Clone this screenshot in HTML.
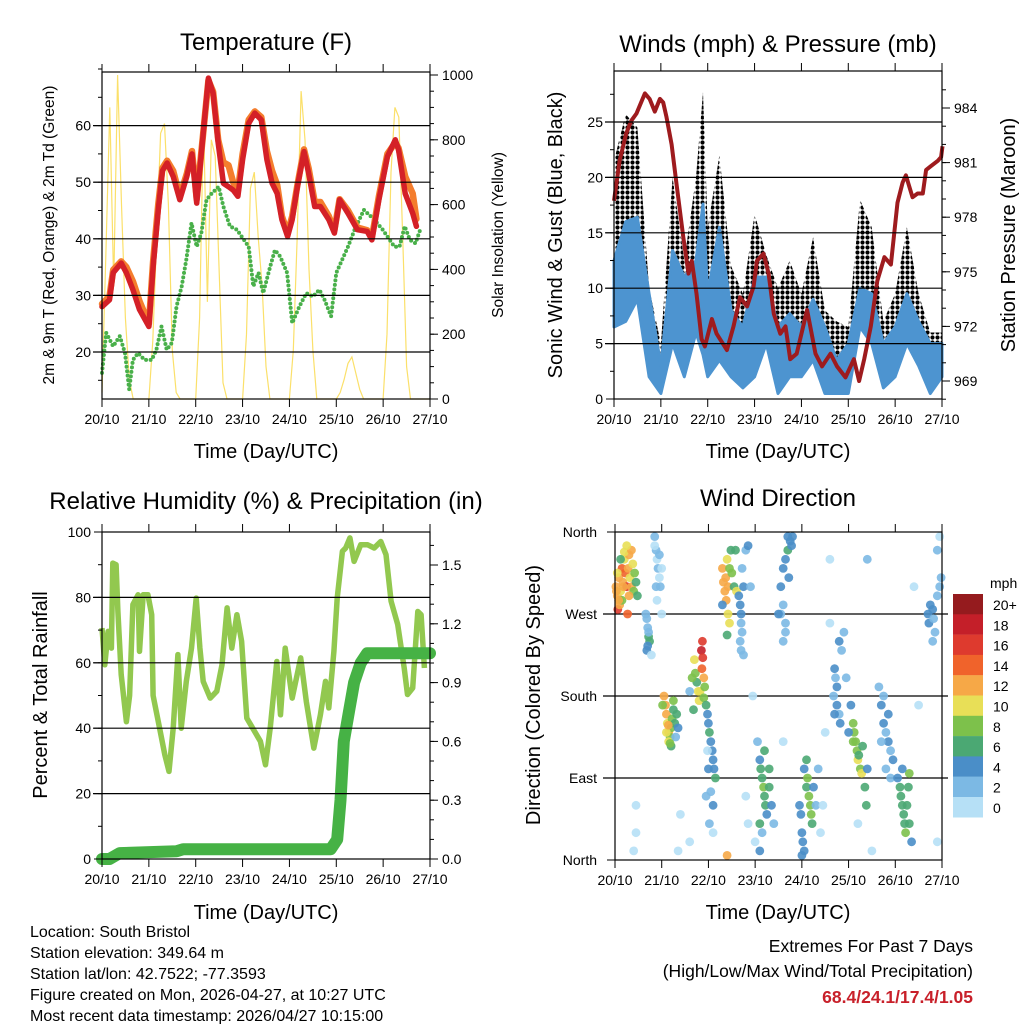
<!DOCTYPE html>
<html><head><meta charset="utf-8"><title>Station meteogram</title>
<style>
html,body{margin:0;padding:0;background:#fff;}
svg{display:block;font-family:"Liberation Sans",Arial,sans-serif;}
</style></head>
<body>
<svg id="chart" width="1024" height="1024" viewBox="0 0 1024 1024" xmlns="http://www.w3.org/2000/svg">
<defs>
<pattern id="gustdots" x="0" y="0" width="5" height="5" patternUnits="userSpaceOnUse">
<circle cx="2.5" cy="2.5" r="2.1" fill="#000"/>
</pattern>
</defs>
<rect x="0" y="0" width="1024" height="1024" fill="#fff"/>
<text x="266" y="50" font-size="24" text-anchor="middle">Temperature (F)</text>
<text x="778" y="52" font-size="24" text-anchor="middle">Winds (mph) &amp; Pressure (mb)</text>
<text x="266" y="509" font-size="24" text-anchor="middle">Relative Humidity (%) &amp; Precipitation (in)</text>
<text x="778" y="506" font-size="24" text-anchor="middle">Wind Direction</text>
<text x="266" y="458" font-size="20" text-anchor="middle">Time (Day/UTC)</text>
<text x="778" y="458" font-size="20" text-anchor="middle">Time (Day/UTC)</text>
<text x="266" y="919" font-size="20" text-anchor="middle">Time (Day/UTC)</text>
<text x="778" y="919" font-size="20" text-anchor="middle">Time (Day/UTC)</text>
<text transform="translate(54,235) rotate(-90)" font-size="15.5" text-anchor="middle">2m &amp; 9m T (Red, Orange) &amp; 2m Td (Green)</text>
<text transform="translate(503,235) rotate(-90)" font-size="15.5" text-anchor="middle">Solar Insolation (Yellow)</text>
<text transform="translate(562,235) rotate(-90)" font-size="20" text-anchor="middle">Sonic Wind &amp; Gust (Blue, Black)</text>
<text transform="translate(1015,235) rotate(-90)" font-size="20" text-anchor="middle">Station Pressure (Maroon)</text>
<text transform="translate(47,695) rotate(-90)" font-size="20" text-anchor="middle">Percent &amp; Total Rainfall</text>
<text transform="translate(540,695) rotate(-90)" font-size="20" text-anchor="middle">Direction (Colored By Speed)</text>
<g font-size="16">
<text x="30" y="937">Location: South Bristol</text>
<text x="30" y="958">Station elevation: 349.64 m</text>
<text x="30" y="979">Station lat/lon: 42.7522; -77.3593</text>
<text x="30" y="1000">Figure created on Mon, 2026-04-27, at 10:27 UTC</text>
<text x="30" y="1021">Most recent data timestamp: 2026/04/27 10:15:00</text>
</g>
<g font-size="17.5" text-anchor="end">
<text x="973" y="952">Extremes For Past 7 Days</text>
<text x="973" y="977">(High/Low/Max Wind/Total Precipitation)</text>
<text x="973" y="1003" font-weight="bold" fill="#c8202a">68.4/24.1/17.4/1.05</text>
</g>
</svg>
<script>
// ---------- data ----------
const dayLabels = ['20/10','21/10','22/10','23/10','24/10','25/10','26/10','27/10'];
const tempTime = [0,0.16,0.24,0.41,0.52,0.66,0.8,1.0,1.09,1.2,1.29,1.39,1.52,1.66,1.81,1.92,2.02,2.27,2.37,2.48,2.59,2.7,2.8,2.9,3.0,3.13,3.26,3.4,3.52,3.63,3.74,3.84,3.96,4.06,4.17,4.31,4.41,4.54,4.66,4.84,4.96,5.07,5.25,5.45,5.66,5.76,5.91,6.09,6.26,6.33,6.47,6.63,6.71];
const tempRed = [28,29.2,34,35.7,34,31,27.5,24.5,35,45,52,53.4,51,46.9,51,55,46.3,68.4,65.7,56.9,49.8,49.2,48.6,47.5,54,60.4,62.2,61,54,49.8,48,43.4,40.4,43.4,49.2,55.4,51.6,45.7,45.7,43.4,41,46.9,44.5,41.6,41.3,39.8,46.9,54.5,57.5,55.7,48,44.5,42.2];
const tempOrange = [28.5,29.8,34.5,36,35,32.5,29,25,36,46,52.5,53.8,52,47.5,51.5,55.5,47,68,66,57.5,53.5,53,50,48.5,55,61,62.5,61.5,55.5,52,49.5,44,41,44,49.5,55.8,52.5,46.5,46.5,44,41.5,47,45,42,41.5,40.2,47.5,55,57,56,51,48,43.5];
const dewTime = [0,0.09,0.24,0.38,0.49,0.58,0.66,0.77,0.91,1.06,1.16,1.27,1.38,1.49,1.59,1.7,1.8,1.91,2.02,2.12,2.23,2.34,2.49,2.59,2.73,2.88,3.13,3.23,3.34,3.44,3.59,3.69,3.8,3.95,4.06,4.21,4.36,4.5,4.64,4.75,4.89,5.0,5.25,5.39,5.59,5.81,5.99,6.09,6.24,6.35,6.46,6.57,6.69,6.79];
const dewValues = [16.3,23.4,21,22.8,19.8,13.4,18.6,19.8,18.6,18.6,20.4,24.5,20.4,21.6,28,31.6,36.3,42.8,38.6,41,46.9,48,49.2,45.7,42.2,41.6,38.6,31.6,34,30.4,35.1,38,36.9,34,25.1,28,30.4,29.8,31,29.2,26.3,34,38.6,41.6,45.1,43.4,41.6,40.4,38.6,38.6,42.2,39.8,39.2,41.6];
const solarValues = [
 20,450,900,350,1000,600,250,60,0,0,0,0,
 0,180,500,820,850,600,150,20,0,0,0,0,
 0,250,870,300,800,750,400,50,0,0,0,0,
 0,200,650,700,500,350,100,0,0,0,0,0,
 0,150,500,950,800,400,150,0,0,0,0,0,
 0,20,60,110,130,80,30,0,0,0,0,0,
 0,200,700,900,870,500,100,0,0,0,0,0, 0];
const windTime = [0,0.25,0.5,0.75,1.0,1.25,1.5,1.75,1.9,2.0,2.25,2.5,2.75,3.0,3.25,3.5,3.75,4.0,4.25,4.5,4.75,5.0,5.25,5.5,5.75,6.0,6.25,6.5,6.75,7.0];
const windLow = [6.5,7,9,2,0.5,5,2,6,4,2,3.5,2,1,2,5,0.5,2,2,3.5,0.5,0.5,0.5,6.5,5,1,2,5,3,0.5,2];
const windHigh = [12.5,16,16.4,9.5,3,13.4,11,12.5,17.6,9.5,15.5,8,6.5,11,11,6.5,7.7,6.5,9,6.5,3.5,5,10,9.5,5,6.5,9.5,7,5,5];
const gustHigh = [21.5,25.7,24.5,10,5,20,12.5,20,27.7,15.5,22,12,9.5,16.7,13,10,12.5,9.5,14.6,8,7,6.5,18,15.5,7,9.5,15.5,9.5,6,6];
const presTime = [0,0.12,0.26,0.37,0.48,0.66,0.76,0.87,0.98,1.05,1.12,1.23,1.34,1.48,1.59,1.66,1.76,1.87,1.94,2.09,2.19,2.41,2.55,2.69,2.84,2.98,3.05,3.19,3.3,3.41,3.55,3.66,3.76,3.9,4.12,4.3,4.44,4.62,4.76,4.94,5.12,5.23,5.34,5.48,5.62,5.77,5.91,6.05,6.16,6.23,6.37,6.48,6.59,6.66,6.76,6.91,6.98,7.01];
const presValues = [978.9,981.1,982.6,983.3,983.7,984.8,984.5,983.8,984.5,984.3,983.5,982,979.7,976.9,974.9,975.6,973.8,971.3,970.9,972.4,971.6,970.7,972,973.6,973.1,974.2,975.6,976,974.9,972.7,971.6,972,970.2,970.5,972.9,970.5,969.8,970.5,969.8,969.2,970.2,969,970.2,972,974.5,975.8,975.4,978.8,979.9,980.3,979.1,979.3,979.3,980.6,980.8,981.1,981.3,981.9];
const rhTime = [0,0.06,0.13,0.2,0.23,0.3,0.34,0.41,0.52,0.59,0.66,0.77,0.8,0.88,0.98,1.06,1.09,1.23,1.34,1.43,1.52,1.62,1.69,1.8,1.91,2.01,2.09,2.16,2.31,2.45,2.56,2.67,2.77,2.88,2.98,3.09,3.38,3.49,3.59,3.73,3.81,3.91,4.06,4.24,4.36,4.52,4.66,4.77,4.84,4.95,5.02,5.13,5.2,5.29,5.38,5.52,5.67,5.81,5.95,6.06,6.17,6.31,6.45,6.52,6.63,6.74,6.81,6.88];
const rhValues = [70.6,59.4,69.6,64.5,90.5,90,75.7,56.4,42,50,77.8,80.8,63.5,80.8,80.8,74.7,50,40,31.9,26.8,40,62.5,40,54.3,64.5,79.8,64.5,54.3,49.2,51.3,59.4,76.8,64.5,74.7,66.6,43.1,36,28.8,40,60.4,44.1,64.5,49.2,61.5,48.2,33.9,44.1,54.3,46.2,63.5,79.8,94.1,95.1,98.2,91,96.1,96.1,95.1,97.1,93.1,78.8,71.7,58.4,50.3,52.3,75.7,74.7,58.4,81.9,87];
const rainTime = [0,0.16,0.38,1.59,1.73,4.88,5.02,5.09,5.16,5.27,5.38,5.52,5.66,7.0];
const rainValues = [0,0,0.03,0.04,0.05,0.05,0.1,0.3,0.6,0.75,0.9,1.0,1.05,1.05];
const speedBins = ['0','2','4','6','8','10','12','14','16','18','20+'];
const speedColors = ['#b6e0f6','#7cb9e4','#4a8ec8','#4ba873','#7dc14b','#e8df57','#f6a847','#f0632b','#de3a2e','#c41f29','#951b1e'];
const dirObs = [
[0.02,300,12],[0.05,290,12],[0.08,310,13],[0.1,285,12],[0.12,295,11],[0.15,320,14],[0.17,305,12],[0.2,330,11],[0.22,315,15],[0.25,300,16],[0.28,320,12],[0.3,335,13],[0.32,310,10],[0.35,300,12],[0.38,325,11],[0.4,295,9],[0.42,315,8],[0.45,305,7],[0.48,290,6],[0.06,275,16],[0.1,280,12],[0.27,270,15],[0.2,338,10],[0.15,285,8],[0.3,290,12],[0.35,340,12],[0.25,345,10],[0.05,315,11],[0.12,330,7],[0.03,295,12],[0.18,300,12],[0.08,285,13],
[0.85,355,2],[0.88,340,2],[0.9,330,1],[0.92,320,2],[0.95,310,1],[0.97,300,2],[0.9,285,1],[0.85,345,1],[0.95,335,3],[1.0,320,1],[1.0,270,1],[0.88,300,2],
[0.68,265,3],[0.7,255,2],[0.72,245,6],[0.74,240,6],[0.7,235,4],[0.68,230,4],[0.72,250,3],[0.66,270,2],[0.78,225,1],
[1.05,180,12],[1.08,170,12],[1.1,160,13],[1.12,150,10],[1.15,140,12],[1.18,135,8],[1.2,145,9],[1.22,155,8],[1.25,165,7],[1.28,150,6],[1.1,140,11],[1.15,130,10],[1.2,125,7],[1.3,135,3],[1.02,170,9],[1.25,175,8],[1.32,160,7],[1.35,145,5],[1.14,148,12],[1.18,128,8],
[1.7,220,10],[1.72,205,9],[1.75,195,6],[1.78,185,10],[1.8,175,10],[1.82,185,11],[1.85,230,18],[1.87,240,17],[1.88,222,16],[1.86,210,15],[1.9,200,12],[1.92,190,8],[1.65,200,8],[1.6,185,3],[1.68,165,7],[1.9,178,9],
[1.95,170,6],[1.98,160,5],[2.0,150,4],[2.02,140,6],[2.05,130,5],[2.08,120,4],[2.1,110,4],[2.12,100,5],[2.15,90,6],[2.0,100,4],[2.05,75,2],[2.1,60,4],[1.95,70,2],[2.02,40,2],[2.1,30,1],[1.98,120,1],
[2.3,320,12],[2.32,305,12],[2.35,295,13],[2.37,310,12],[2.4,330,11],[2.42,300,13],[2.38,285,12],[2.45,320,9],[2.48,340,7],[2.5,315,8],[2.55,300,7],[2.6,295,10],[2.58,340,6],[2.3,280,4],[2.42,270,10],[2.45,260,10],[2.4,247,6],
[2.65,290,4],[2.68,280,4],[2.7,270,4],[2.7,260,2],[2.72,250,2],[2.68,240,2],[2.7,230,2],[2.75,300,4],[2.72,320,2],[2.8,340,2],[2.85,345,4],[2.9,300,2],[2.75,225,2],
[3.05,130,2],[3.1,110,4],[3.12,100,6],[3.15,90,6],[3.18,80,8],[3.2,70,6],[3.22,60,6],[3.25,50,4],[3.1,40,6],[3.15,30,2],[3.3,100,6],[3.3,80,6],[3.35,60,4],[3.2,120,6],[3.4,40,2],[3.0,20,1],[3.1,10,4],
[3.55,300,4],[3.6,320,4],[3.65,330,4],[3.7,340,6],[3.75,350,4],[3.8,355,4],[3.72,310,4],[3.6,280,2],[3.65,260,2],[3.55,270,2],[3.6,240,2],[3.65,250,2],[3.7,355,4],[3.78,345,4],[3.5,270,4],
[3.95,60,4],[3.98,50,4],[4.0,30,4],[4.02,20,4],[4.05,10,4],[4.0,5,4],[4.1,80,6],[4.12,90,8],[4.15,70,8],[4.18,60,8],[4.2,50,8],[4.22,40,6],[4.25,80,4],[4.3,60,2],[4.35,100,2],[4.4,30,1],[4.1,110,6],[4.05,100,4],
[4.7,210,4],[4.72,200,2],[4.75,190,4],[4.68,180,2],[4.75,170,4],[4.8,160,2],[4.82,150,4],[4.85,230,2],[4.8,240,4],[4.7,160,4],[4.9,250,2],[4.95,200,2],
[5.05,170,4],[5.1,150,8],[5.12,140,8],[5.15,130,8],[5.18,120,9],[5.2,110,10],[5.22,115,7],[5.25,100,8],[5.28,95,10],[5.3,125,7],[5.1,130,9],[5.35,80,6],[5.38,60,6],[5.0,140,4],[5.4,100,4],
[5.65,190,2],[5.7,170,4],[5.75,150,4],[5.8,140,2],[5.85,130,4],[5.9,120,2],[5.95,110,4],[5.7,130,2],[5.8,100,2],[5.9,90,2],[5.75,180,2],[5.85,160,4],
[6.05,90,4],[6.1,80,6],[6.12,70,6],[6.15,60,6],[6.18,50,6],[6.2,40,6],[6.22,30,8],[6.25,60,6],[6.28,80,6],[6.3,95,9],[6.15,100,4],[6.3,40,6],[6.35,20,4],
[6.7,270,4],[6.72,260,4],[6.75,280,4],[6.8,275,4],[6.82,265,2],[6.85,250,2],[6.9,290,2],[6.95,300,2],[6.98,310,2],[6.9,340,2],[6.95,355,1],[6.8,240,2],
[0.45,30,1],[0.4,10,1],[0.45,60,1],[1.35,10,0],[1.4,50,1],[1.6,20,1],[2.4,5,12],[2.8,70,1],[2.85,40,1],[3.6,130,1],[4.5,140,1],[4.6,330,1],[4.6,260,1],[5.2,40,1],[5.5,10,1],[5.4,330,2],[6.4,300,1],[6.5,170,1],[6.9,20,1],[4.45,60,1],[2.95,180,1]
];

// ---------- helpers ----------
const NS = 'http://www.w3.org/2000/svg';
const svg = document.getElementById('chart');
function mk(tag, attrs, parent) {
  const e = document.createElementNS(NS, tag);
  for (const k in attrs) e.setAttribute(k, attrs[k]);
  (parent || svg).appendChild(e);
  return e;
}
function linScale(d0, d1, r0, r1) { return v => r0 + (v - d0) * (r1 - r0) / (d1 - d0); }
function pathFrom(xs, ys, sx, sy) { return xs.map((x, i) => (i ? 'L' : 'M') + sx(x).toFixed(1) + ',' + sy(ys[i]).toFixed(1)).join(''); }

function xAxis(g, sx, top, bottom) {
  for (let i = 0; i < dayLabels.length; i++) {
    const x = sx(i);
    mk('line', {x1:x, y1:bottom, x2:x, y2:bottom+8, stroke:'#000', 'stroke-width':1}, g);
    mk('line', {x1:x, y1:top, x2:x, y2:top-8, stroke:'#000', 'stroke-width':1}, g);
    const t = mk('text', {x:x, y:bottom+25, 'font-size':14, 'text-anchor':'middle'}, g);
    t.textContent = dayLabels[i];
    
    
  }
}
function yAxis(g, sy, xEdge, side, majors, minors, fmt, gridFrom, gridTo, grid) {
  const dir = side === 'left' ? -1 : 1;
  minors.forEach(v => {
    mk('line', {x1:xEdge, y1:sy(v), x2:xEdge+dir*4, y2:sy(v), stroke:'#000', 'stroke-width':1}, g);
  });
  majors.forEach(v => {
    const y = sy(v);
    mk('line', {x1:xEdge, y1:y, x2:xEdge+dir*8, y2:y, stroke:'#000', 'stroke-width':1}, g);
    if (grid && grid.indexOf(v) >= 0) {
      mk('line', {x1:gridFrom, y1:y, x2:gridTo, y2:y, stroke:'#000', 'stroke-width':1.2}, g);
    }
    const t = mk('text', {x: side === 'left' ? xEdge-11 : xEdge+12, y:y+5, 'font-size':14, 'text-anchor': side === 'left' ? 'end' : 'start'}, g);
    t.textContent = fmt(v);
    
    
  });
}
function box(g, x0, y0, x1, y1) {
  mk('rect', {x:x0, y:y0, width:x1-x0, height:y1-y0, fill:'none', stroke:'#000', 'stroke-width':1.2}, g);
}
function range(a, b, s) { const r = []; for (let v = a; v <= b + 1e-9; v += s) r.push(Math.round(v*1000)/1000); return r; }

// ---------- Panel 1: Temperature ----------
{
  const g = mk('g', {});
  
  
  const sx = linScale(0, 7, 102, 430);
  const sy = linScale(20, 60, 352, 125.6);
  const ss = linScale(0, 1000, 399, 75);
  const solarTime = solarValues.map((v, i) => i / 12);
  const solar = mk('path', {d: pathFrom(solarTime, solarValues, sx, ss), fill:'none', stroke:'#fbe06a', 'stroke-width':1.2}, g);
  
  
  const dew = mk('path', {d: pathFrom(dewTime, dewValues, sx, sy), fill:'none', stroke:'#49b04a', 'stroke-width':4, 'stroke-dasharray':'0 4.5', 'stroke-linecap':'round', 'stroke-linejoin':'round'}, g);
  
  
  const orng = mk('path', {d: pathFrom(tempTime, tempOrange, sx, sy), fill:'none', stroke:'#f47d2d', 'stroke-width':6.5, 'stroke-linejoin':'round', 'stroke-linecap':'round'}, g);
  
  
  const red = mk('path', {d: pathFrom(tempTime, tempRed, sx, sy), fill:'none', stroke:'#d42027', 'stroke-width':5.5, 'stroke-linejoin':'round', 'stroke-linecap':'round'}, g);
  
  
  yAxis(g, sy, 102, 'left', range(20,60,10), range(15,70,5), v => String(v), 93, 430, range(20,60,10));
  yAxis(g, ss, 430, 'right', range(0,1000,200), range(0,1000,50), v => String(v), 0, 0, []);
  xAxis(g, sx, 72, 399);
  box(g, 102, 72, 430, 399);
}

// ---------- Panel 2: Winds & Pressure ----------
{
  const g = mk('g', {});
  
  
  const sx = linScale(0, 7, 614, 942);
  const sy = linScale(0, 25, 399, 122);
  const sp = linScale(969, 984, 381, 108);
  const gustD = pathFrom(windTime, gustHigh, sx, sy) + pathFrom(windTime.slice().reverse(), windLow.slice().reverse(), sx, sy).replace('M','L') + 'Z';
  const gust = mk('path', {d: gustD, fill:'url(#gustdots)', stroke:'none'}, g);
  
  
  const windD = pathFrom(windTime, windHigh, sx, sy) + pathFrom(windTime.slice().reverse(), windLow.slice().reverse(), sx, sy).replace('M','L') + 'Z';
  const wind = mk('path', {d: windD, fill:'#4d94d0', stroke:'#4d94d0', 'stroke-width':3, 'stroke-linejoin':'round'}, g);
  
  
  const pres = mk('path', {d: pathFrom(presTime, presValues, sx, sp), fill:'none', stroke:'#9e1b1e', 'stroke-width':4, 'stroke-linejoin':'round'}, g);
  
  
  yAxis(g, sy, 614, 'left', range(0,25,5), range(0,27.5,2.5), v => String(v), 605, 942, range(5,25,5));
  yAxis(g, sp, 942, 'right', range(969,984,3), range(968,985,1), v => String(v), 0, 0, []);
  xAxis(g, sx, 71, 399);
  box(g, 614, 71, 942, 399);
}

// ---------- Panel 3: RH & Precip ----------
{
  const g = mk('g', {});
  
  
  const sx = linScale(0, 7, 102, 430);
  const sy = linScale(0, 100, 859, 532);
  const sr = linScale(0, 1.5, 859, 565);
  const rh = mk('path', {d: pathFrom(rhTime, rhValues, sx, sy), fill:'none', stroke:'#92c84f', 'stroke-width':5.5, 'stroke-linejoin':'round'}, g);
  
  
  const rain = mk('path', {d: pathFrom(rainTime, rainValues, sx, sr), fill:'none', stroke:'#46b245', 'stroke-width':12, 'stroke-linejoin':'round', 'stroke-linecap':'round'}, g);
  
  
  yAxis(g, sy, 102, 'left', range(0,100,20), range(0,100,10), v => String(v), 93, 430, range(20,80,20));
  yAxis(g, sr, 430, 'right', range(0,1.5,0.3), range(0,1.65,0.1), v => v.toFixed(1), 0, 0, []);
  xAxis(g, sx, 532, 859);
  box(g, 102, 532, 430, 859);
}

// ---------- Panel 4: Wind Direction ----------
{
  const g = mk('g', {});
  
  
  const sx = linScale(0, 7, 615, 942);
  const sy = linScale(0, 360, 860, 532);
  const dirLabels = ['North','East','South','West','North'];
  [90,180,270].forEach(v => mk('line', {x1:603, y1:sy(v), x2:948, y2:sy(v), stroke:'#000', 'stroke-width':1.2}, g));
  dirLabels.forEach((lab, i) => {
    const y = sy(i * 90);
    mk('line', {x1:615, y1:y, x2:607, y2:y, stroke:'#000', 'stroke-width':1}, g);
    const t = mk('text', {x:597, y:y+5, 'font-size':14, 'text-anchor':'end'}, g);
    t.textContent = lab;
    
    
  });
  dirObs.forEach(p => {
    const bin = Math.min(10, Math.max(0, Math.floor(p[2] / 2)));
    const c = mk('circle', {cx: sx(p[0]).toFixed(1), cy: sy(p[1]).toFixed(1), r: 4.4, fill: speedColors[bin], 'fill-opacity':0.9}, g);
    
    
  });
  xAxis(g, sx, 532, 860);
  box(g, 615, 532, 942, 860);
  // colorbar
  const lg = mk('g', {}, g);
  
  
  const ttl = mk('text', {x:990, y:588, 'font-size':14}, lg);
  ttl.textContent = 'mph';
  
  
  for (let i = 0; i < speedBins.length; i++) {
    const idx = speedBins.length - 1 - i;
    const y = 594 + i * 20.3;
    const r = mk('rect', {x:953, y:y, width:30, height:20.5, fill:speedColors[idx]}, lg);
    
    
    const t = mk('text', {x:993, y:y+16, 'font-size':14}, lg);
    t.textContent = speedBins[idx];
    
    
  }
}
</script>
</body></html>
